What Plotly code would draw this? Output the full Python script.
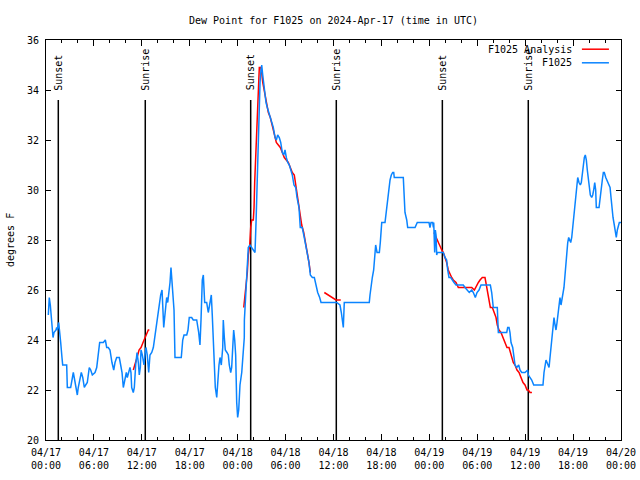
import pandas as pd
import plotly.graph_objects as go

# ---------------- data ----------------
BASE = "2024-04-17 00:00"

# observed dew point (hours since 04/17 00:00 UTC, degrees F)
obs_hours = [0.29, 0.41, 0.54, 0.66, 0.79, 0.88, 1.00, 1.25, 1.34, 1.41, 1.59, 1.67, 1.84, 2.00, 2.09,
             2.59, 2.60, 2.67, 3.09, 3.22, 3.42, 3.59, 3.76, 3.92, 4.04, 4.26, 4.42, 4.60, 4.80, 4.97,
             5.17, 5.42, 5.60, 5.80, 6.14, 6.35, 6.55, 6.72, 7.18, 7.43, 7.60, 7.80, 8.01, 8.14, 8.26,
             8.48, 8.64, 8.85, 9.18, 9.35, 9.52, 9.68, 9.85, 10.06, 10.18, 10.36, 10.52, 10.64, 10.73,
             10.93, 11.06, 11.23, 11.40, 11.56, 11.68, 11.81, 11.90, 12.06, 12.27, 12.43, 12.52, 12.68,
             12.86, 13.02, 13.24, 13.44, 13.65, 13.81, 13.99, 14.15, 14.36, 14.53, 14.61, 14.74, 14.86,
             14.99, 15.11, 15.24, 15.36, 15.53, 15.65, 15.78, 16.03, 16.15, 16.57, 16.94, 17.12, 17.28,
             17.62, 17.78, 17.94, 18.24, 18.44, 18.87, 19.12, 19.28, 19.41, 19.57, 19.70, 19.87, 20.12,
             20.32, 20.54, 20.70, 20.82, 21.00, 21.07, 21.20, 21.38, 21.50, 21.66, 21.79, 21.95, 22.13,
             22.20, 22.33, 22.45, 22.66, 22.83, 22.95, 23.13, 23.25, 23.38, 23.50, 23.63, 23.75, 23.88,
             24.00, 24.13, 24.29, 24.51, 24.71, 24.83, 24.84, 24.92, 25.13, 25.21, 25.33, 25.54, 25.76,
             25.96, 26.17, 26.30, 26.42, 26.55, 26.67, 26.80, 26.92, 27.01, 27.14, 27.26, 27.42, 27.55,
             27.71, 27.92, 28.09, 28.26, 28.46, 28.68, 28.84, 29.01, 29.21, 29.39, 29.59, 29.76, 29.93,
             30.09, 30.27, 30.47, 30.68, 30.84, 31.05, 31.27, 31.43, 31.68, 31.84, 32.09, 32.34, 32.52,
             32.72, 32.93, 33.10, 33.35, 33.60, 33.81, 34.02, 34.27, 34.44, 36.40, 36.81, 36.98, 37.10,
             37.23, 37.35, 40.48, 40.57, 40.70, 40.86, 41.03, 41.16, 41.28, 41.45, 41.74, 41.86, 41.95,
             42.04, 42.45, 42.58, 42.70, 42.83, 42.95, 43.08, 43.24, 43.41, 43.54, 43.61, 44.74, 44.83,
             44.95, 45.17, 45.29, 46.21, 46.49, 47.96, 48.08, 48.21, 48.42, 48.50, 48.55, 48.67, 48.75,
             48.84, 48.92, 49.00, 49.55, 49.75, 49.96, 50.17, 50.30, 50.46, 50.68, 50.84, 51.09, 51.34,
             51.55, 51.84, 52.25, 52.47, 52.68, 53.00, 53.31, 53.51, 53.76, 53.97, 54.22, 54.47, 54.97,
             55.64, 55.81, 55.94, 56.01, 56.51, 56.56, 56.64, 57.06, 57.69, 57.81, 57.98, 58.10, 58.23,
             58.44, 58.60, 58.73, 58.94, 59.19, 59.35, 59.57, 59.98, 60.32, 60.39, 60.61, 60.82, 61.07,
             62.23, 62.36, 62.49, 62.61, 62.74, 62.99, 63.11, 63.24, 63.36, 63.49, 63.61, 63.74, 63.86,
             63.99, 64.11, 64.24, 64.36, 64.49, 64.61, 64.74, 64.86, 64.99, 65.08, 65.20, 65.33, 65.45,
             65.58, 65.70, 65.83, 65.95, 66.08, 66.20, 66.33, 66.45, 66.58, 66.74, 66.91, 67.03, 67.16,
             67.28, 67.41, 67.53, 67.66, 67.78, 67.91, 68.03, 68.16, 68.33, 68.46, 68.58, 68.71, 68.83,
             68.91, 69.25, 69.37, 69.50, 69.66, 69.79, 69.91, 70.09, 70.25, 70.41, 70.63, 70.75, 70.87,
             71.00, 71.16, 71.29, 71.41, 71.54, 71.66, 71.79, 72.00]
obs_values = [25.0, 25.7, 25.4, 24.9, 24.3, 24.1, 24.3, 24.4, 24.5, 24.4, 24.7, 24.5, 23.9, 23.3, 23.0,
              23.0, 22.5, 22.1, 22.1, 22.4, 22.7, 22.4, 22.1, 21.8, 22.1, 22.4, 22.7, 22.5, 22.1, 22.2,
              22.3, 22.9, 22.8, 22.6, 22.7, 22.9, 23.6, 23.9, 23.9, 24.0, 23.7, 23.7, 23.6, 23.3, 23.1,
              22.8, 23.1, 23.3, 23.3, 23.0, 22.7, 22.1, 22.4, 22.7, 22.5, 22.7, 22.9, 22.7, 22.1,
              21.9, 22.1, 23.0, 23.5, 23.1, 22.6, 22.9, 23.6, 23.4, 23.0, 23.5, 23.7, 23.4,
              22.7, 23.4, 23.5, 23.7, 24.2, 24.6, 25.1, 25.5, 25.8, 26.0, 25.4, 24.5, 24.9,
              25.4, 25.7, 25.5, 25.8, 26.3, 26.9, 26.3, 25.2, 23.3, 23.3, 23.3, 24.0, 24.2,
              24.2, 24.4, 24.9, 24.9, 24.8, 24.8, 24.3, 23.8, 24.8, 26.4, 26.6, 25.5, 25.5,
              25.1, 25.5, 25.8, 25.0, 23.6, 22.7, 22.1, 21.7, 22.4, 23.0, 23.3, 23.0, 23.7,
              24.8, 24.1, 23.6, 23.5, 23.4, 23.0, 22.7, 22.9, 23.5, 24.4, 24.0, 23.4, 21.5,
              20.9, 21.2, 22.2, 22.7, 23.4, 24.1, 24.8, 25.3, 26.2, 27.1, 27.7, 27.8, 27.7,
              27.6, 27.5, 28.7, 30.3, 32.2, 33.4, 34.3, 34.8, 35.0, 34.6, 34.2, 33.9, 33.5,
              33.3, 33.1, 32.9, 32.7, 32.5, 32.1, 32.0, 32.2, 32.1, 31.9, 31.5, 31.4, 31.6,
              31.3, 31.1, 31.0, 30.8, 30.6, 30.2, 30.1, 29.7, 29.3, 28.5, 28.5, 28.1, 27.8,
              27.4, 27.1, 26.6, 26.5, 26.5, 26.2, 25.9, 25.7, 25.5, 25.5, 25.4, 25.1, 24.7,
              24.5, 25.5, 25.5, 25.8, 26.2, 26.5, 26.8, 27.4, 27.8, 27.5, 27.5, 27.9, 28.4,
              28.7, 28.7, 29.1, 29.5, 29.9, 30.1, 30.4, 30.6, 30.7, 30.7, 30.5, 30.5, 29.9,
              29.1, 28.8, 28.5, 28.5, 28.7, 28.7, 28.5, 28.7, 28.7, 28.5, 28.7, 27.5, 28.4,
              28.2, 27.4, 27.5, 27.5, 27.5, 27.3, 27.2, 26.8, 26.5, 26.5, 26.4, 26.3, 26.2,
              26.2, 26.2, 26.2, 26.1, 26.0, 25.9, 26.0, 25.9, 25.7, 25.9, 26.0, 26.2, 26.2,
              26.2, 25.9, 25.5, 25.3, 25.3, 24.7, 24.3, 24.3, 24.3, 24.5, 24.5, 24.3, 23.9,
              23.7, 23.3, 23.0, 22.9, 23.0, 22.8, 22.7, 22.7, 22.8, 22.6, 22.5, 22.4, 22.2,
              22.2, 22.7, 23.0, 23.2, 23.1, 22.9, 23.3, 23.7, 24.2, 24.7, 24.9, 24.6, 24.4,
              24.7, 25.1, 25.5, 25.7, 25.4, 25.6, 25.8, 26.1, 26.6, 27.0, 27.5, 27.9, 28.1,
              28.0, 27.9, 28.1, 28.5, 28.9, 29.3, 29.8, 30.3, 30.5, 30.3, 30.2, 30.3, 30.7,
              31.0, 31.3, 31.4, 31.2, 30.8, 30.4, 30.0, 29.8, 29.7, 29.8, 30.0, 30.3, 30.0,
              29.3, 29.3, 29.7, 30.1, 30.4, 30.7, 30.7, 30.5, 30.4, 30.3, 30.1, 29.7, 29.2,
              28.9, 28.6, 28.3, 28.1, 28.4, 28.6, 28.7, 28.7]

# analysis (None = gap between analysis segments)
ana_hours = [10.93, 11.14, 11.40, 11.65, 11.90, 12.15, 12.40, 12.61, 12.81, 12.94, 18.00,
             24.76, 25.04, 25.21, 25.33, 25.51, 25.63, 25.76, 25.96, 26.05, 26.13, 26.26, 26.38,
             26.51, 26.63, 26.71, 26.88, 27.01, 27.14, 27.26, 27.42, 27.59, 27.84, 28.09, 28.34,
             28.59, 28.84, 29.09, 29.34, 29.59, 29.84, 30.09, 30.34, 30.59, 30.84, 31.09, 31.22,
             31.43, 31.59, 31.84, 32.02, 32.27, 32.52, 32.68, 32.93, 33.10, 34.00,
             34.85, 35.31, 35.81, 36.31, 36.91, 42.00,
             48.58, 48.84, 49.12, 49.34, 49.55, 49.75, 49.96, 50.17, 50.37, 50.59, 50.80, 51.00,
             51.34, 51.63, 51.84, 52.47, 52.88, 53.31, 53.64, 53.94, 54.14, 54.35, 54.63, 54.97,
             55.09, 55.26, 55.43, 55.64, 55.89, 56.14, 56.35, 56.51, 56.72, 56.97, 57.22, 57.47,
             57.72, 57.98, 58.14, 58.31, 58.51, 58.73, 58.98, 59.23, 59.48, 59.73, 59.98, 60.23,
             60.39, 60.61, 60.85]
ana_values = [22.8, 23.0, 23.3, 23.6, 23.7, 23.9, 24.1, 24.3, 24.4, 24.4, None,
              25.3, 26.1, 26.7, 27.4, 27.8, 28.5, 28.8, 28.8, 29.3, 30.3, 31.3, 32.2,
              33.1, 34.1, 34.9, 34.9, 34.7, 34.3, 34.1, 33.8, 33.4, 33.1, 32.9, 32.6,
              32.2, 31.9, 31.8, 31.7, 31.5, 31.3, 31.2, 31.1, 30.9, 30.7, 30.6, 30.3,
              29.8, 29.4, 29.0, 28.6, 28.3, 27.9, 27.6, 27.1, 26.7, None,
              25.9, 25.8, 25.7, 25.6, 25.6, None,
              28.3, 28.1, 27.9, 27.7, 27.6, 27.5, 27.3, 27.1, 26.8, 26.6, 26.5, 26.4,
              26.3, 26.1, 26.1, 26.1, 26.1, 26.1, 26.0, 26.2, 26.3, 26.4, 26.5, 26.5,
              26.3, 25.9, 25.6, 25.3, 25.3, 25.1, 24.9, 24.6, 24.4, 24.3, 24.1, 23.9,
              23.7, 23.7, 23.5, 23.3, 23.1, 23.0, 22.8, 22.7, 22.5, 22.3, 22.2, 22.0,
              22.0, 21.9, 21.9]

# sunrise / sunset (hours since 04/17 00:00 UTC)
sun_hours = [1.54, 12.43, 25.63, 36.35, 49.63, 60.39]
sun_labels = ["Sunset", "Sunrise", "Sunset", "Sunrise", "Sunset", "Sunrise"]

y_ticks = [20, 22, 24, 26, 28, 30, 32, 34, 36]

# ---------------- figure ----------------
base = pd.Timestamp(BASE)
def to_time(hours):
    return [base + pd.Timedelta(hours=h) for h in hours]

FONT = "DejaVu Sans Mono"
BLUE = "#0a84ff"
RED = "#ff0000"

fig = go.Figure()
fig.add_trace(go.Scatter(x=to_time(ana_hours), y=ana_values, mode="lines",
                         line=dict(color=RED, width=1.5), name="F1025 Analysis",
                         connectgaps=False, showlegend=False))
fig.add_trace(go.Scatter(x=to_time(obs_hours), y=obs_values, mode="lines",
                         line=dict(color=BLUE, width=1.5), name="F1025", showlegend=False))

for h, lab in zip(sun_hours, sun_labels):
    t = base + pd.Timedelta(hours=h)
    fig.add_shape(type="line", xref="x", yref="y", x0=t, x1=t, y0=20, y1=33.6,
                  line=dict(color="black", width=1.5), layer="below")
    fig.add_annotation(x=t, y=33.9, xref="x", yref="y", text=lab, textangle=-90,
                       showarrow=False, xanchor="center", yanchor="bottom",
                       font=dict(family=FONT, size=10, color="black"))

# manual legend (text left, line sample right, like the original)
legend_items = [("F1025 Analysis", RED), ("F1025", BLUE)]
for i, (name, col) in enumerate(legend_items):
    yp = 0.977 - i * 0.034
    fig.add_annotation(x=0.919, y=yp, xref="paper", yref="paper", text=name,
                       showarrow=False, xanchor="right", yanchor="middle",
                       font=dict(family=FONT, size=10, color="black"))
    fig.add_shape(type="line", xref="paper", yref="paper", x0=0.932, x1=0.979,
                  y0=yp, y1=yp, line=dict(color=col, width=1.5))

# y-axis title as rotated text at the left edge
fig.add_annotation(x=-0.0626, y=0.5, xref="paper", yref="paper", text="degrees F",
                   textangle=-90, showarrow=False, xanchor="center", yanchor="middle",
                   font=dict(family=FONT, size=10, color="black"))

fig.update_layout(
    width=640, height=480, autosize=False,
    margin=dict(l=46, r=19, t=40, b=40, autoexpand=False),
    paper_bgcolor="white", plot_bgcolor="white",
    font=dict(family=FONT, size=10, color="black"),
    title=dict(text="Dew Point for F1025 on 2024-Apr-17 (time in UTC)",
               x=0.5, xref="paper", xanchor="center", y=1 - 20 / 480, yanchor="middle",
               font=dict(family=FONT, size=10, color="black")),
    showlegend=False,
)
fig.update_xaxes(
    range=[base, base + pd.Timedelta(hours=72)], automargin=False,
    tickformat="%m/%d<br>%H:%M", dtick=6 * 3600 * 1000, tick0=base,
    ticks="inside", ticklen=6, tickcolor="black", tickwidth=1,
    minor=dict(dtick=2 * 3600 * 1000, ticks="inside", ticklen=3, tickcolor="black"),
    showline=True, linecolor="black", linewidth=1, mirror="allticks",
    showgrid=False, zeroline=False, ticklabelstandoff=3,
    tickfont=dict(family=FONT, size=10, color="black"),
)
fig.update_yaxes(
    range=[20, 36], tickvals=y_ticks, automargin=False,
    ticks="inside", ticklen=5, tickcolor="black", tickwidth=1,
    showline=True, linecolor="black", linewidth=1, mirror="allticks",
    showgrid=False, zeroline=False, ticklabelstandoff=4,
    tickfont=dict(family=FONT, size=10, color="black"),
)

fig.write_html("out.html", config={"displayModeBar": False},
               post_script="document.body.style.margin='0';document.body.style.overflow='hidden';")
